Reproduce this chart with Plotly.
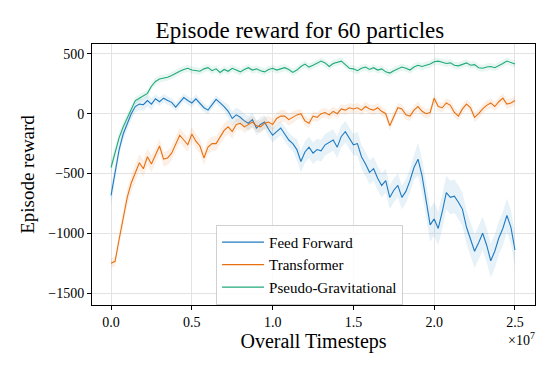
import numpy as np
import plotly.graph_objects as go

# timesteps (101 evenly spaced logging points, 0 .. 2.5e7)
timesteps = np.linspace(0, 2.5e7, 101)

feed_forward = [
    -683, -480, -300, -170, -80, 0, 60, 80, 75, 110,
    80, 125, 100, 130, 110, 95, 55, 100, 135, 110,
    90, 125, 85, 50, 30, 80, 120, 90, 60, 20,
    -40, -10, -30, -60, -80, -50, -120, -90, -70, -130,
    -180, -150, -120, -170, -220, -250, -300, -400, -320, -280,
    -330, -300, -310, -260, -240, -220, -280, -190, -150, -200,
    -260, -250, -360, -420, -490, -460, -540, -600, -560, -700,
    -640, -600, -700, -650, -560, -450, -380, -520, -740, -930,
    -880, -960, -820, -660, -700, -690, -740, -800, -950, -1050,
    -1150, -1080, -1000, -1100, -1230, -1150, -1040, -960, -850, -950,
    -1140,
]
feed_forward_std = [
    80, 70, 50, 50, 50, 50, 50, 50, 50, 50,
    50, 35, 35, 35, 35, 35, 35, 35, 35, 35,
    35, 35, 35, 35, 35, 35, 35, 35, 35, 60,
    60, 60, 60, 60, 60, 60, 60, 60, 60, 60,
    60, 60, 60, 60, 60, 60, 90, 90, 90, 90,
    90, 90, 90, 90, 90, 90, 90, 90, 90, 90,
    90, 100, 100, 100, 100, 100, 100, 100, 100, 100,
    100, 100, 100, 100, 100, 100, 140, 140, 140, 140,
    140, 140, 140, 140, 140, 140, 140, 140, 140, 140,
    140, 140, 140, 140, 140, 140, 140, 140, 140, 140,
    140,
]

transformer = [
    -1250, -1235, -1050, -880, -700, -580, -500, -410, -460, -360,
    -420, -350, -270, -380, -370, -330, -250, -180, -220, -260,
    -170, -230, -270, -370, -280, -250, -250, -190, -140, -110,
    -150, -90, -80, -110, -90, -70, -100, -110, -80, -70,
    -90, -40, -20, -20, -50, -30, -10, 0, -60, -80,
    -20, -30, 0, 10, -10, 20, 0, 40, 30, 50,
    40, 50, 30, 60, 40, 30, 50, 20, 0, -100,
    -20, 50, 40, -10, -20, 30, 60, 20, 0, 10,
    130, 60, 50, 90, 70, 10, -20, 40, 80, 50,
    -30, 0, 40, 70, 90, 60, 100, 130, 80, 90,
    110,
]
transformer_std = [
    40, 40, 60, 70, 70, 70, 70, 70, 70, 70,
    70, 60, 60, 60, 60, 60, 60, 60, 60, 60,
    60, 60, 60, 60, 60, 60, 60, 60, 60, 60,
    60, 50, 50, 50, 50, 50, 50, 50, 50, 50,
    50, 50, 50, 50, 50, 50, 40, 40, 40, 40,
    40, 40, 40, 40, 40, 40, 40, 40, 40, 40,
    40, 40, 40, 40, 40, 40, 40, 40, 40, 40,
    40, 40, 40, 40, 40, 40, 40, 40, 40, 40,
    40, 40, 40, 40, 40, 40, 40, 40, 40, 40,
    40, 40, 40, 40, 40, 40, 40, 40, 40, 40,
    40,
]

pseudo_grav = [
    -450, -330, -200, -110, -40, 40, 110, 130, 150, 170,
    230, 270, 290, 295, 305, 320, 340, 355, 370, 380,
    365, 360, 355, 375, 385, 360, 375, 345, 370, 355,
    380, 365, 350, 370, 385, 365, 375, 360, 350, 370,
    380, 365, 375, 385, 370, 345, 365, 395, 415, 390,
    405, 420, 440, 425, 395, 420, 430, 440, 410, 380,
    375, 360, 380, 390, 370, 385, 365, 375, 350, 340,
    360, 375, 390, 380, 365, 390, 405, 395, 405, 415,
    435, 440, 430, 420, 425, 405, 400, 415, 425, 405,
    410, 385, 380, 390, 395, 385, 400, 420, 440, 430,
    415,
]
pseudo_grav_std = [
    60, 50, 50, 40, 40, 35, 30, 30, 30, 30,
    30, 30, 30, 30, 30, 30, 30, 30, 30, 30,
    30, 30, 30, 30, 30, 30, 30, 30, 30, 30,
    30, 30, 30, 30, 30, 30, 30, 30, 30, 30,
    30, 30, 30, 30, 30, 30, 30, 30, 30, 30,
    30, 30, 30, 30, 30, 30, 30, 30, 30, 30,
    30, 30, 30, 30, 30, 30, 30, 30, 30, 30,
    30, 30, 30, 30, 30, 30, 30, 30, 30, 30,
    30, 30, 30, 30, 30, 30, 30, 30, 30, 30,
    30, 30, 30, 30, 30, 30, 30, 30, 30, 30,
    30,
]

series = [
    ("Feed Forward", feed_forward, feed_forward_std, "#1f7bc1", "rgba(31,123,193,0.11)"),
    ("Transformer", transformer, transformer_std, "#e8700f", "rgba(232,112,15,0.11)"),
    ("Pseudo-Gravitational", pseudo_grav, pseudo_grav_std, "#20a97a", "rgba(32,169,122,0.11)"),
]

FONT = "Liberation Serif"

fig = go.Figure()

for name, mean, std, color, band in series:
    mean = np.array(mean, dtype=float)
    std = np.array(std, dtype=float)
    fig.add_trace(go.Scatter(x=timesteps, y=mean + std, mode="lines",
                             line=dict(width=0), showlegend=False, hoverinfo="skip"))
    fig.add_trace(go.Scatter(x=timesteps, y=mean - std, mode="lines",
                             line=dict(width=0), fill="tonexty", fillcolor=band,
                             showlegend=False, hoverinfo="skip"))
    fig.add_trace(go.Scatter(x=timesteps, y=mean, mode="lines", name=name,
                             line=dict(color=color, width=1.1)))

axis_common = dict(
    showline=True, linecolor="black", linewidth=1, mirror=True,
    ticks="outside", ticklen=4, tickcolor="black", automargin=False,
    showgrid=True, gridcolor="#e3e3e3", gridwidth=1, zeroline=False,
    tickfont=dict(family=FONT, size=14, color="black"),
)

fig.update_xaxes(
    range=[-1.18e6, 2.624e7],
    tickvals=[0, 5e6, 1e7, 1.5e7, 2e7, 2.5e7],
    ticktext=["0.0", "0.5", "1.0", "1.5", "2.0", "2.5"],
    title=dict(text="Overall Timesteps", font=dict(family=FONT, size=20, color="black"), standoff=4),
    **axis_common,
)
fig.update_yaxes(
    range=[-1600, 583],
    tickvals=[-1500, -1000, -500, 0, 500],
    ticktext=["\u22121500", "\u22121000", "\u2212500", "0", "500"],
    title=dict(text="Episode reward", font=dict(family=FONT, size=19, color="black"), standoff=8),
    **axis_common,
)

fig.add_annotation(
    text="\u00d710<sup>7</sup>", xref="paper", yref="paper", x=1.005, y=-0.13,
    xanchor="right", yanchor="middle", showarrow=False,
    font=dict(family=FONT, size=14, color="black"),
)

# page body adds an 8px offset, so margins are shifted to compensate
fig.update_layout(
    width=555, height=370,
    margin=dict(l=84, r=28, t=36, b=73),
    paper_bgcolor="white", plot_bgcolor="white",
    title=dict(text="Episode reward for 60 particles", x=0.526, xanchor="center",
               y=0.94, yanchor="middle",
               font=dict(family=FONT, size=23, color="black")),
    legend=dict(x=0.28, y=0.307, xanchor="left", yanchor="top", traceorder="normal",
                bgcolor="rgba(255,255,255,0.85)", bordercolor="#d0d0d0", borderwidth=1,
                font=dict(family=FONT, size=15, color="black"),
                itemwidth=42, tracegroupgap=0),
    showlegend=True,
)

fig.write_html("out.html")
